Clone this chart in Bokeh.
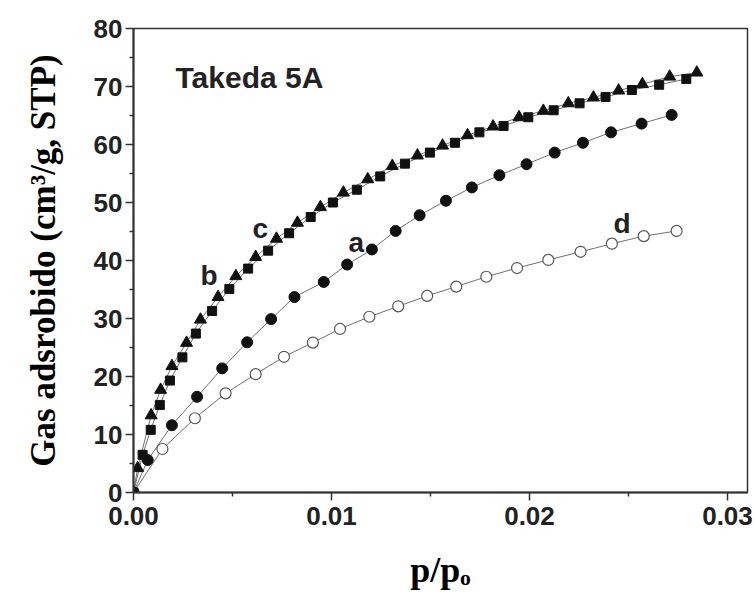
from bokeh.plotting import figure
from bokeh.models import Range1d, FixedTicker, NumeralTickFormatter, Label
from bokeh.embed import file_html
from bokeh.resources import INLINE

# ---- data ----
a_x = [0.0, 0.00072, 0.00194, 0.00321, 0.00448, 0.00574, 0.00695, 0.00813, 0.00961,
       0.01079, 0.01204, 0.01324, 0.01445, 0.01578, 0.01709, 0.01848, 0.01985,
       0.02127, 0.02270, 0.02412, 0.02566, 0.02718]
a_y = [0.0, 5.6, 11.6, 16.5, 21.4, 25.9, 29.9, 33.7, 36.3, 39.3, 41.9, 45.1, 47.8,
       50.3, 52.6, 54.7, 56.6, 58.6, 60.3, 62.1, 63.6, 65.1]

b_x = [0.0, 0.00046, 0.00087, 0.00133, 0.00184, 0.00247, 0.00315, 0.00397, 0.00484,
       0.00579, 0.00680, 0.00786, 0.00895, 0.01007, 0.01128, 0.01246, 0.01371,
       0.01497, 0.01624, 0.01747, 0.01869, 0.01994, 0.02122, 0.02253, 0.02384,
       0.02517, 0.02655, 0.02792]
b_y = [0.0, 6.5, 10.8, 15.1, 19.3, 23.3, 27.4, 31.3, 35.1, 38.6, 41.7, 44.7, 47.5,
       50.0, 52.2, 54.5, 56.7, 58.6, 60.3, 62.1, 63.2, 64.7, 65.9, 67.1, 68.2,
       69.4, 70.3, 71.3]

c_x = [0.0, 0.00021, 0.00089, 0.00137, 0.00194, 0.00268, 0.00338, 0.00427, 0.00517,
       0.00617, 0.00722, 0.00828, 0.00944, 0.01060, 0.01183, 0.01307, 0.01434,
       0.01561, 0.01687, 0.01816, 0.01947, 0.02070, 0.02196, 0.02323, 0.02450,
       0.02570, 0.02708, 0.02845]
c_y = [0.0, 4.2, 13.3, 17.7, 21.8, 25.8, 29.8, 33.7, 37.3, 40.6, 43.75, 46.5, 49.2,
       51.7, 54.0, 56.3, 58.1, 59.8, 61.6, 63.1, 64.7, 65.8, 67.1, 68.1, 69.3,
       70.4, 71.7, 72.4]

d_x = [0.0, 0.00146, 0.00310, 0.00465, 0.00617, 0.00760, 0.00906, 0.01043, 0.01191,
       0.01337, 0.01483, 0.01630, 0.01782, 0.01937, 0.02095, 0.02258, 0.02416,
       0.02577, 0.02743]
d_y = [0.0, 7.5, 12.8, 17.1, 20.4, 23.4, 25.85, 28.2, 30.3, 32.1, 33.9, 35.5, 37.2,
       38.7, 40.1, 41.5, 42.9, 44.2, 45.1]

x_ticks = [0.0, 0.01, 0.02, 0.03]
y_ticks = [0, 10, 20, 30, 40, 50, 60, 70, 80]

title_text = "Takeda 5A"
series_labels = ["a", "b", "c", "d"]
label_x = [0.01086, 0.00338, 0.00601, 0.02424]
label_y = [43.1, 37.4, 45.5, 46.4]

# ---- figure ----
p = figure(frame_width=614, frame_height=464,
           x_range=Range1d(0, 0.03101), y_range=Range1d(0, 80),
           min_border_left=133, min_border_top=28, min_border_right=6,
           min_border_bottom=100,
           output_backend="svg", toolbar_location=None)
p.grid.visible = False
p.background_fill_color = "white"
p.outline_line_color = "#333333"
p.outline_line_width = 1.5

SANS = "Liberation Sans"
SERIF = "Liberation Serif"

for ax in (p.xaxis[0], p.yaxis[0]):
    ax.axis_line_color = "#333333"
    ax.axis_line_width = 2
    ax.major_tick_line_color = "#333333"
    ax.major_tick_line_width = 1.5
    ax.minor_tick_line_color = "#333333"
    ax.minor_tick_line_width = 1.5
    ax.major_tick_in = 0
    ax.major_tick_out = 8
    ax.minor_tick_in = 0
    ax.minor_tick_out = 4
    ax.major_label_text_font = SANS
    ax.major_label_text_font_style = "bold"
    ax.major_label_text_font_size = "26px"
    ax.major_label_text_color = "#222222"
    ax.axis_label_text_font = SERIF
    ax.axis_label_text_font_style = "bold"
    ax.axis_label_text_color = "#000000"

p.xaxis.ticker = FixedTicker(ticks=x_ticks, minor_ticks=[0.005, 0.015, 0.025])
p.xaxis.formatter = NumeralTickFormatter(format="0.00")
p.xaxis.major_label_standoff = 6
p.xaxis.axis_label = "p/p\u2092"
p.xaxis.axis_label_text_font_size = "36px"
p.xaxis.axis_label_standoff = 22

p.yaxis.ticker = FixedTicker(ticks=y_ticks, minor_ticks=[5, 15, 25, 35, 45, 55, 65, 75])
p.yaxis.major_label_standoff = 3
p.yaxis.axis_label = "Gas adsrobido (cm³/g, STP)"
p.yaxis.axis_label_text_font_size = "35px"
p.yaxis.axis_label_standoff = 28

LINE = "#707070"
MK = "#111111"

# lines
p.line(a_x, a_y, line_color=LINE, line_width=1)
p.line(b_x, b_y, line_color=LINE, line_width=1)
p.line(c_x, c_y, line_color=LINE, line_width=1)
p.line(d_x, d_y, line_color=LINE, line_width=1)

# markers
p.scatter(d_x, d_y, marker="circle", size=11, fill_color="white",
          line_color="#555555", line_width=1.2)
p.scatter(a_x, a_y, marker="circle", size=11, fill_color=MK, line_color=MK)
p.scatter(b_x, b_y, marker="square", size=9, fill_color=MK, line_color=MK)
p.scatter(c_x, c_y, marker="triangle", size=12, fill_color=MK, line_color=MK)

# texts
p.add_layout(Label(x=0.00212, y=71.55, text=title_text, text_font=SANS,
                   text_font_style="bold", text_font_size="30px",
                   text_color="#222222", text_baseline="alphabetic"))
for t, lx, ly in zip(series_labels, label_x, label_y):
    p.add_layout(Label(x=lx, y=ly, text=t, text_font=SANS, text_font_style="bold",
                       text_font_size="28px", text_color="#222222",
                       text_baseline="alphabetic"))

open("out.html", "w").write(file_html(p, INLINE))
